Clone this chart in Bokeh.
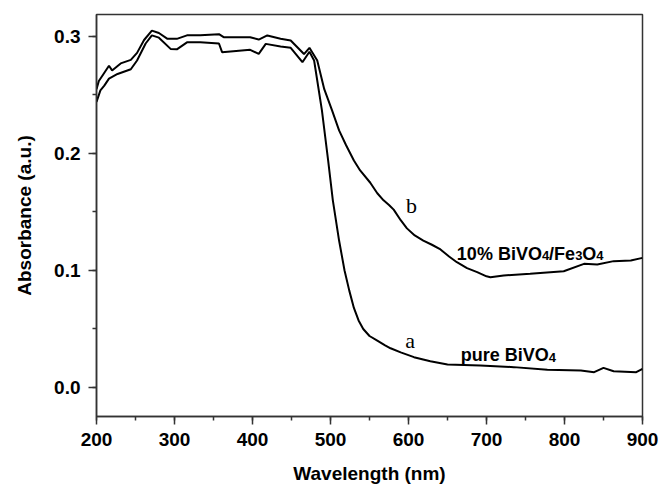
from bokeh.plotting import figure
from bokeh.models import SingleIntervalTicker, Range1d, CustomJSTickFormatter
from bokeh.core.properties import value
from bokeh.embed import file_html
from bokeh.resources import INLINE

# Curve a: pure BiVO4
wl_a = [200, 205, 210, 216, 227, 244, 252, 263, 271, 280, 295, 303, 316, 333, 357, 361,
        397, 408, 417, 436, 449, 464, 473, 479, 489, 497, 503, 511, 518, 524, 530, 536,
        542, 550, 560, 570, 577, 590, 607, 628, 650, 692, 735, 778, 821, 838, 850, 863,
        892, 900]
abs_a = [0.244, 0.254, 0.258, 0.264, 0.268, 0.272, 0.2795, 0.294, 0.301, 0.299, 0.2894,
         0.289, 0.295, 0.295, 0.294, 0.2866, 0.2886, 0.2852, 0.2937, 0.2915, 0.2903,
         0.278, 0.287, 0.2795, 0.2368, 0.194, 0.160, 0.1256, 0.100, 0.083, 0.068, 0.0573,
         0.050, 0.044, 0.040, 0.036, 0.0335, 0.030, 0.0259, 0.0225, 0.0197, 0.0188,
         0.0174, 0.0151, 0.0145, 0.0131, 0.0168, 0.0139, 0.0131, 0.016]

# Curve b: 10% BiVO4/Fe3O4
wl_b = [200, 203, 209, 216, 220, 231, 244, 252, 261, 271, 280, 291, 303, 316, 333, 357,
        363, 397, 408, 419, 436, 449, 466, 473, 483, 492, 502, 511, 520, 530, 538, 551,
        560, 568, 575, 581, 590, 598, 608, 619, 630, 641, 652, 662, 675, 688, 700, 705,
        722, 756, 799, 825, 842, 863, 885, 900]
abs_b = [0.255, 0.262, 0.268, 0.275, 0.271, 0.277, 0.280, 0.286, 0.297, 0.305, 0.303,
         0.298, 0.298, 0.301, 0.301, 0.302, 0.2994, 0.2994, 0.2974, 0.3009, 0.298, 0.2966,
         0.285, 0.2903, 0.2795, 0.255, 0.2368, 0.2197, 0.207, 0.194, 0.1855, 0.175, 0.166,
         0.160, 0.156, 0.152, 0.143, 0.136, 0.130, 0.1256, 0.122, 0.118, 0.112, 0.1071,
         0.102, 0.0986, 0.095, 0.0943, 0.0957, 0.0972, 0.0994, 0.1057, 0.1051, 0.108,
         0.1085, 0.1108]

curve_letters = ["b", "a"]
letter_x = [604, 602]
letter_y = [0.1556, 0.040]

# sample names, split into normal and subscript pieces
name_b_parts = ["10% BiVO", "4", "/Fe", "3", "O", "4"]
name_a_parts = ["pure BiVO", "4"]
name_x = [662, 667]
name_y = [0.1145, 0.0274]

# Arial/Liberation Sans Bold advance widths (per 1000 em)
ADV = {'1': 556, '0': 556, '%': 889, ' ': 278, 'B': 722, 'i': 278, 'V': 667, 'O': 778,
       '/': 278, 'F': 611, 'e': 556, 'p': 611, 'u': 611, 'r': 389, '4': 556, '3': 556}
MAIN_SIZE = 18
SUB_SIZE = 13


def piece_layout(parts):
    xs_off, ys_off, sizes = [], [], []
    cur = 0.0
    for i, t in enumerate(parts):
        is_sub = t.isdigit() and i > 0
        size = SUB_SIZE if is_sub else MAIN_SIZE
        xs_off.append(cur)
        ys_off.append(2 if is_sub else 0)
        sizes.append(f"{size}px")
        cur += sum(ADV.get(ch, 556) for ch in t) / 1000.0 * size
    return xs_off, ys_off, sizes


p = figure(width=662, height=487, output_backend="svg", toolbar_location=None,
           x_range=Range1d(200, 900), y_range=Range1d(-0.0248, 0.3188),
           min_border_left=96, min_border_right=20, min_border_top=14, min_border_bottom=71)
p.background_fill_color = "white"
p.border_fill_color = "white"
p.grid.visible = False
p.outline_line_color = "#333333"
p.outline_line_width = 1.5

p.line(wl_a, abs_a, line_color="black", line_width=2)
p.line(wl_b, abs_b, line_color="black", line_width=2)

p.text(letter_x, letter_y, text=curve_letters, text_font=value("Liberation Serif"),
       text_font_size="22px", text_align="center", text_baseline="middle", text_color="black")

for parts, nx, ny in ((name_b_parts, name_x[0], name_y[0]), (name_a_parts, name_x[1], name_y[1])):
    xo, yo, sz = piece_layout(parts)
    p.text(x=[nx] * len(parts), y=[ny] * len(parts), text=parts, x_offset=xo, y_offset=yo,
           text_font_size=sz, text_font=value("Liberation Sans"), text_font_style="bold",
           text_align="left", text_baseline="alphabetic", text_color="black")

p.xaxis.ticker = SingleIntervalTicker(interval=100, num_minor_ticks=2)
p.yaxis.ticker = SingleIntervalTicker(interval=0.1, num_minor_ticks=2)
p.yaxis.formatter = CustomJSTickFormatter(code="return tick.toFixed(1);")

for ax in (p.xaxis, p.yaxis):
    ax.axis_line_color = "#333333"
    ax.axis_line_width = 1.5
    ax.major_tick_line_color = "#333333"
    ax.minor_tick_line_color = "#333333"
    ax.major_tick_line_width = 1.5
    ax.minor_tick_line_width = 1.5
    ax.major_tick_out = 8
    ax.major_tick_in = 0
    ax.minor_tick_out = 4
    ax.minor_tick_in = 0
    ax.major_label_text_font = "Liberation Sans"
    ax.major_label_text_font_style = "bold"
    ax.major_label_text_font_size = "19px"
    ax.major_label_text_color = "black"
    ax.axis_label_text_font = "Liberation Sans"
    ax.axis_label_text_font_style = "bold"
    ax.axis_label_text_font_size = "19px"
    ax.axis_label_text_color = "black"
    ax.major_label_standoff = 8

p.xaxis.axis_label = "Wavelength (nm)"
p.yaxis.axis_label = "Absorbance (a.u.)"
p.xaxis.axis_label_standoff = 14
p.yaxis.axis_label_standoff = 16

open("out.html", "w").write(file_html(p, INLINE))
